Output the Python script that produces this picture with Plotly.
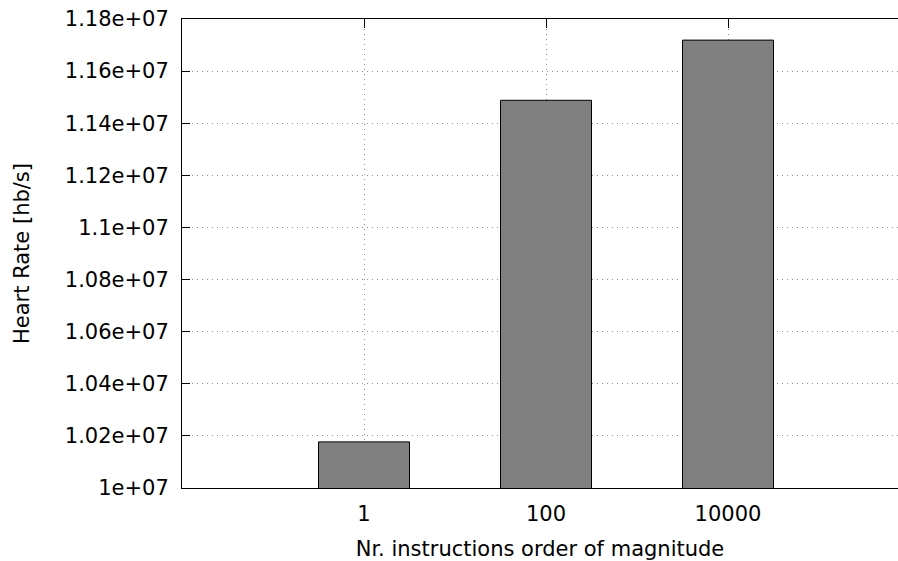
import plotly.graph_objects as go

categories = ["1", "100", "10000"]
heart_rate = [1.0177e7, 1.1488e7, 1.1719e7]
y_tick_vals = [1.0e7, 1.02e7, 1.04e7, 1.06e7, 1.08e7, 1.10e7, 1.12e7, 1.14e7, 1.16e7, 1.18e7]
y_tick_labels = ["1e+07", "1.02e+07", "1.04e+07", "1.06e+07", "1.08e+07", "1.1e+07",
                 "1.12e+07", "1.14e+07", "1.16e+07", "1.18e+07"]

FONT = "DejaVu Sans"
FS = 21

fig = go.Figure()
fig.add_trace(go.Bar(
    x=categories, y=heart_rate, base=0, width=0.5,
    marker=dict(color="#808080", line=dict(color="black", width=1)),
))

fig.update_layout(
    width=898, height=561,
    margin=dict(l=182, r=0, t=19, b=73),
    paper_bgcolor="white", plot_bgcolor="white",
    showlegend=False,
    font=dict(family=FONT, size=FS, color="black"),
    xaxis=dict(
        type="category", range=[-1, 2.934],
        showline=True, linecolor="black", linewidth=1, mirror="allticks",
        ticks="inside", ticklen=9, tickcolor="black", tickwidth=1,
        showgrid=True, gridcolor="#909090", griddash="1px,4px", gridwidth=1,
        layer="below traces", ticklabelstandoff=7,
        title=dict(text="Nr. instructions order of magnitude", standoff=16,
                   font=dict(family=FONT, size=FS)),
        zeroline=False,
    ),
    yaxis=dict(
        range=[1.0e7, 1.18e7],
        tickmode="array", tickvals=y_tick_vals, ticktext=y_tick_labels,
        showline=True, linecolor="black", linewidth=1, mirror=False,
        ticks="inside", ticklen=8, tickcolor="black", tickwidth=1,
        showgrid=True, gridcolor="#909090", griddash="1px,4px", gridwidth=1,
        ticklabelstandoff=8,
        title=dict(text="Heart Rate [hb/s]", standoff=29,
                   font=dict(family=FONT, size=FS)),
        zeroline=False,
    ),
)

fig.write_html(
    "out.html",
    config={"responsive": False, "displayModeBar": False},
    post_script=("document.body.style.margin='0';"
                 "document.body.style.overflow='hidden';"
                 "document.documentElement.style.overflow='hidden';"),
)
